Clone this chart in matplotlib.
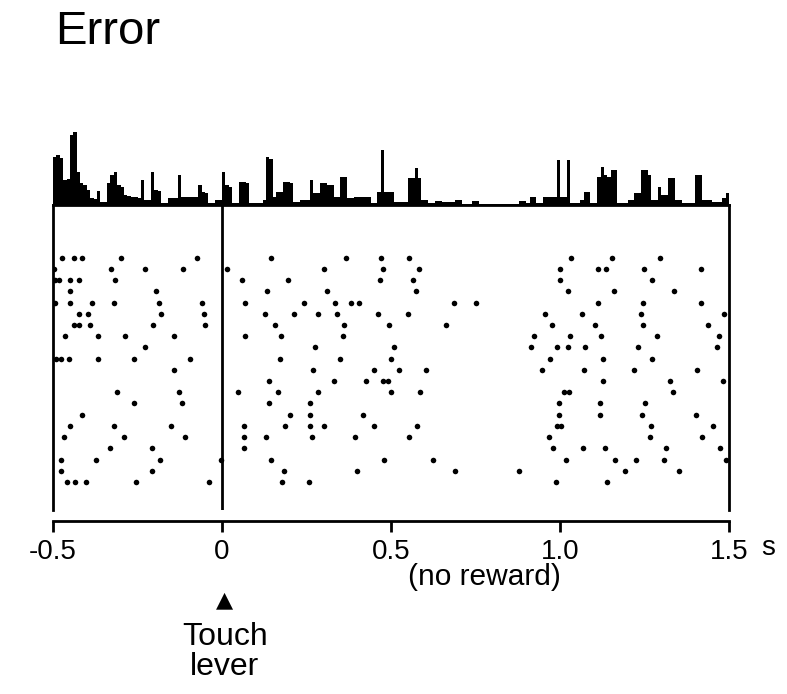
import matplotlib
matplotlib.use("Agg")
import matplotlib.pyplot as plt
import numpy as np

plt.rcParams.update({
    "font.family": ["Liberation Sans", "DejaVu Sans"],
    "axes.unicode_minus": False,
})

# time window (s) and histogram bins (10 ms)
T_START, T_END = -0.5, 1.5
BIN_WIDTH = 0.01

# PSTH bin heights, one row per 100 ms
psth_counts = [
    48, 50, 47, 25, 26, 70, 73, 33, 22, 20,   # -0.5 .. -0.4
    15, 7, 6, 14, 3, 3, 22, 30, 33, 20,       # -0.4 .. -0.3
    18, 10, 9, 8, 8, 7, 25, 5, 5, 33,         # -0.3 .. -0.2
    15, 14, 2, 2, 7, 7, 7, 30, 8, 8,          # -0.2 .. -0.1
    8, 8, 8, 20, 13, 12, 2, 2, 5, 5,          # -0.1 .. 0
    33, 20, 18, 2, 2, 23, 23, 22, 2, 2,       # 0 .. 0.1
    2, 2, 5, 48, 46, 8, 13, 13, 23, 23,       # 0.1 .. 0.2
    22, 3, 3, 5, 5, 5, 25, 12, 12, 22,        # 0.2 .. 0.3
    22, 20, 20, 8, 8, 28, 28, 7, 7, 8,        # 0.3 .. 0.4
    8, 8, 8, 8, 2, 2, 13, 55, 13, 13,         # 0.4 .. 0.5
    13, 3, 3, 3, 3, 27, 27, 37, 27, 5,        # 0.5 .. 0.6
    5, 2, 2, 4, 4, 3, 3, 3, 3, 5,             # 0.6 .. 0.7
    5, 1, 1, 1, 4, 4, 1, 1, 1, 1,             # 0.7 .. 0.8
    1, 1, 1, 1, 1, 1, 1, 1, 4, 4,             # 0.8 .. 0.9
    2, 8, 8, 2, 2, 8, 8, 8, 8, 45,            # 0.9 .. 1.0
    8, 8, 45, 2, 2, 2, 5, 13, 13, 2,          # 1.0 .. 1.1
    2, 28, 38, 30, 28, 35, 35, 2, 2, 2,       # 1.1 .. 1.2
    5, 5, 12, 12, 35, 35, 30, 5, 5, 18,       # 1.2 .. 1.3
    10, 10, 27, 27, 5, 5, 2, 2, 2, 2,         # 1.3 .. 1.4
    30, 30, 5, 5, 5, 3, 3, 3, 7, 12,          # 1.4 .. 1.5
]

# spike times (s) for each trial, top row first
trial_spikes = [
    [-0.472, -0.439, -0.415, -0.300, -0.075, 0.144, 0.367, 0.470, 0.552, 1.033, 1.154, 1.297],
    [-0.497, -0.328, -0.227, -0.116, 0.015, 0.303, 0.477, 0.582, 0.999, 1.113, 1.135, 1.248, 1.416],
    [-0.494, -0.482, -0.449, -0.424, -0.316, 0.059, 0.196, 0.468, 0.566, 1.000, 1.273],
    [-0.449, -0.196, 0.134, 0.311, 0.574, 1.025, 1.161, 1.337],
    [-0.495, -0.449, -0.384, -0.319, -0.187, -0.058, 0.068, 0.243, 0.333, 0.382, 0.404,
     0.687, 0.751, 1.113, 1.246, 1.416],
    [-0.424, -0.397, -0.181, -0.052, 0.126, 0.212, 0.285, 0.341, 0.461, 0.551, 0.956,
     1.066, 1.239, 1.486],
    [-0.437, -0.423, -0.391, -0.204, -0.051, 0.157, 0.360, 0.494, 0.662, 0.976, 1.104,
     1.246, 1.438],
    [-0.464, -0.366, -0.286, -0.142, 0.067, 0.175, 0.359, 0.922, 1.030, 1.121, 1.287, 1.470],
    [-0.228, 0.276, 0.508, 0.914, 0.992, 1.024, 1.073, 1.230, 1.464],
    [-0.491, -0.475, -0.452, -0.368, -0.261, -0.094, 0.172, 0.349, 0.500, 0.970, 1.128, 1.271],
    [-0.143, 0.268, 0.451, 0.525, 0.603, 0.946, 1.071, 1.220, 1.405],
    [0.140, 0.332, 0.426, 0.477, 0.492, 1.128, 1.325, 1.483],
    [-0.312, -0.126, 0.048, 0.166, 0.283, 0.500, 0.586, 1.012, 1.027, 1.334],
    [-0.261, -0.117, 0.140, 0.260, 0.997, 1.119, 1.252],
    [-0.415, 0.202, 0.260, 0.418, 0.996, 1.119, 1.243, 1.403],
    [-0.451, -0.320, -0.151, 0.065, 0.187, 0.260, 0.301, 0.451, 0.578, 0.990, 1.004,
     1.268, 1.452],
    [-0.468, -0.289, -0.109, 0.065, 0.131, 0.266, 0.394, 0.554, 0.967, 1.267, 1.420],
    [-0.331, -0.207, 0.064, 0.980, 1.068, 1.132, 1.314, 1.473],
    [-0.476, -0.372, -0.184, -0.003, 0.145, 0.478, 0.624, 1.018, 1.162, 1.224, 1.307, 1.491],
    [-0.476, -0.208, 0.184, 0.399, 0.690, 0.880, 1.191, 1.352],
    [-0.459, -0.435, -0.402, -0.255, -0.039, 0.178, 0.257, 0.987, 1.138],
]

tick_values = [-0.5, 0, 0.5, 1.0, 1.5]
tick_labels = ["-0.5", "0", "0.5", "1.0", "1.5"]

W, H = 787, 694
fig = plt.figure(figsize=(W / 100, H / 100), dpi=100)


def frac(x0, y0, x1, y1):
    # pixel box (top-left origin) -> figure fraction rect
    return [x0 / W, 1 - y1 / H, (x1 - x0) / W, (y1 - y0) / H]


LW = 2.0

# histogram
ax_h = fig.add_axes(frac(53, 128, 729, 205))
edges = np.arange(len(psth_counts) + 1) * BIN_WIDTH + T_START
ax_h.stairs(psth_counts, edges, fill=True, color="black", baseline=0)
ax_h.set_xlim(T_START, T_END)
ax_h.set_ylim(0, 77)
ax_h.axis("off")

# raster
ax_r = fig.add_axes(frac(53, 205, 729, 510))
for i, spikes in enumerate(trial_spikes):
    ax_r.plot(spikes, [i] * len(spikes), "o", color="black", ms=4.0, mew=0)
ax_r.axvline(0, color="black", lw=LW)
ax_r.set_xlim(T_START, T_END)
ax_r.set_ylim(len(trial_spikes) + 1.5, -4.7)
for side in ("left", "right", "top"):
    ax_r.spines[side].set_linewidth(LW)
ax_r.spines["bottom"].set_visible(False)
ax_r.set_xticks([])
ax_r.set_yticks([])

# time axis below the raster
ax_t = fig.add_axes(frac(53, 520, 729, 521))
ax_t.set_xlim(T_START, T_END)
for side in ("left", "right", "top"):
    ax_t.spines[side].set_visible(False)
ax_t.spines["bottom"].set_linewidth(LW)
ax_t.spines["bottom"].set_bounds(T_START, T_END)
ax_t.set_yticks([])
ax_t.set_xticks(tick_values)
ax_t.set_xticklabels(tick_labels)
ax_t.tick_params(axis="x", direction="out", length=8, width=LW, labelsize=20, pad=5)
ax_t.patch.set_alpha(0)

fig.text(775 / W, 1 - 548 / H, "s", fontsize=20, ha="right", va="center")

# title and annotations
fig.text(55 / W, 1 - 32 / H, "Error", fontsize=34, ha="left", va="center")
fig.text(484 / W, 1 - 577 / H, "(no reward)", fontsize=21.5, ha="center", va="center")
fig.text(224 / W, 1 - 600 / H, "\u25B2", fontsize=16, ha="center", va="center",
         family=["DejaVu Sans"])
fig.text(225 / W, 1 - 637 / H, "Touch", fontsize=23, ha="center", va="center")
fig.text(225 / W, 1 - 667 / H, "lever", fontsize=23, ha="center", va="center")

fig.savefig("out.png", dpi=100)
